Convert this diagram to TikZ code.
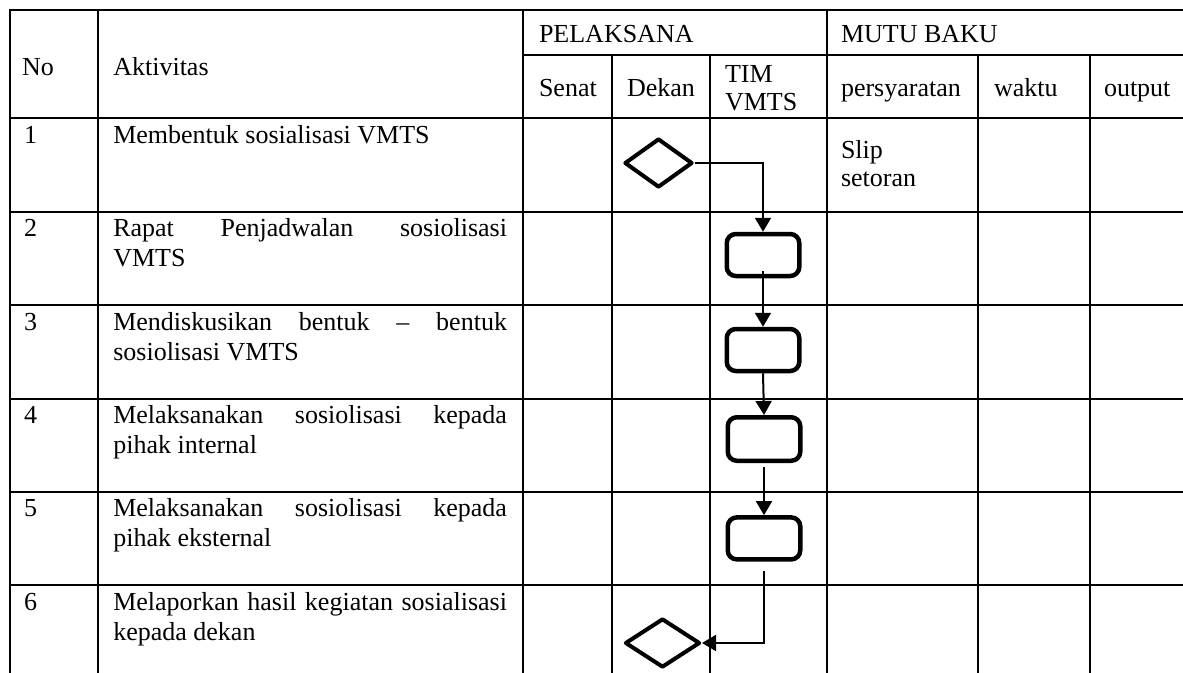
\documentclass[tikz,border=0pt]{standalone}
\usepackage{fontspec}
\setmainfont{Liberation Serif}
\usetikzlibrary{shapes.geometric,arrows.meta}
\begin{document}
\begin{tikzpicture}[x=1pt,y=-1pt,
  grid/.style={line width=2.3pt, line cap=rect},
  txt/.style={anchor=base west, inner sep=0pt, outer sep=0pt, font=\fontsize{26}{30}\selectfont},
  dia/.style={diamond, draw, line width=4pt, inner sep=0pt, line join=round},
  procbox/.style={draw, rounded corners=9pt, line width=4.5pt, minimum width=72.5pt, minimum height=42pt, inner sep=0pt},
  conn/.style={line width=2pt, -{Triangle[length=14pt,width=16pt]}},
]
\useasboundingbox (0,0) rectangle (1183,672);
\fill[white] (0,0) rectangle (1183,672);
% table grid
\draw[grid] (10,10) -- (1183,10);
\draw[grid] (523,55) -- (1183,55);
\foreach \yy in {118,211.7,305,398.7,491.7,585}{\draw[grid] (10,\yy) -- (1183,\yy);}
\foreach \xx in {10,97.7,523,826.7}{\draw[grid] (\xx,10) -- (\xx,672);}
\foreach \xx in {611.7,710,977.7,1090}{\draw[grid] (\xx,55) -- (\xx,672);}
% header texts
\node[txt] (hNo) at (22,75) {No};
\node[txt] (hAkt) at (113.3,75) {Aktivitas};
\node[txt] (hPel) at (539,42) {PELAKSANA};
\node[txt] (hMutu) at (841,42) {MUTU BAKU};
\node[txt] (hSenat) at (539,96.5) {Senat};
\node[txt] (hDekan) at (627,96.5) {Dekan};
\node[txt] (hTim) at (725,82) {TIM};
\node[txt] (hVmts) at (725,110) {VMTS};
\node[txt] (hPers) at (841,96.5) {persyaratan};
\node[txt] (hWaktu) at (994,96.5) {waktu};
\node[txt] (hOut) at (1104,96.5) {output};
% row numbers
\node[txt] (n1) at (24,143) {1};
\node[txt] (n2) at (24,236.7) {2};
\node[txt] (n3) at (24,330) {3};
\node[txt] (n4) at (24,423.5) {4};
\node[txt] (n5) at (24,516.7) {5};
\node[txt] (n6) at (24,610) {6};
% activities
\node[txt] (a1) at (113.3,143) {Membentuk sosialisasi VMTS};
\node[txt] (a2a) at (113.3,236.7) {\makebox[393.7pt][s]{Rapat Penjadwalan sosiolisasi}};
\node[txt] (a2b) at (113.3,266.7) {VMTS};
\node[txt] (a3a) at (113.3,330) {\makebox[393.7pt][s]{Mendiskusikan bentuk – bentuk}};
\node[txt] (a3b) at (113.3,360) {sosiolisasi VMTS};
\node[txt] (a4a) at (113.3,423.5) {\makebox[393.7pt][s]{Melaksanakan sosiolisasi kepada}};
\node[txt] (a4b) at (113.3,453.5) {pihak internal};
\node[txt] (a5a) at (113.3,516.7) {\makebox[393.7pt][s]{Melaksanakan sosiolisasi kepada}};
\node[txt] (a5b) at (113.3,546.7) {pihak eksternal};
\node[txt] (a6a) at (113.3,610) {\makebox[393.7pt][s]{Melaporkan hasil kegiatan sosialisasi}};
\node[txt] (a6b) at (113.3,640) {kepada dekan};
% persyaratan
\node[txt] (slip) at (841,158) {Slip};
\node[txt] (setoran) at (841,186.7) {setoran};
% flow shapes
\node[dia, minimum width=68pt, minimum height=49pt] (d1) at (658.5,163) {};
\node[procbox] (b1) at (763,255) {};
\node[procbox] (b2) at (763,350) {};
\node[procbox, minimum height=43.5pt] (b3) at (764,439) {};
\node[procbox] (b4) at (764,538.4) {};
\node[dia, minimum width=75pt, minimum height=49pt] (d2) at (662.5,643) {};
% connectors
\draw[conn] (d1.east) -| (b1.north);
\draw[conn, shorten <=-7pt] (b1.south) -- (b2.north);
\draw[conn] (b2.south) -- (b3.north);
\draw[conn, shorten <=4pt] (b3.south) -- (b4.north);
\draw[conn, shorten <=9pt] (b4.south) |- (d2.east);
\end{tikzpicture}
\end{document}
